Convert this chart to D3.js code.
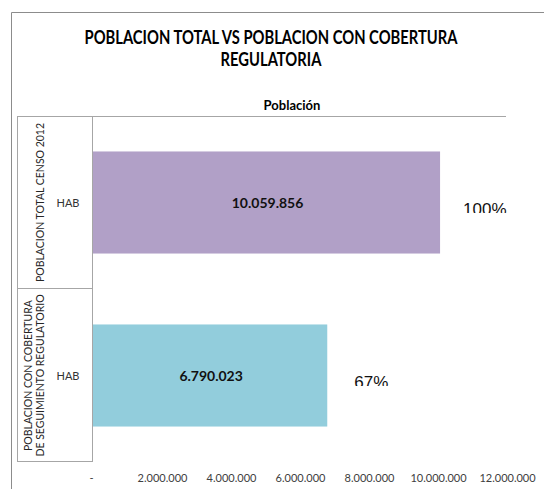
<!DOCTYPE html>
<html>
<head>
<meta charset="utf-8">
<script src="https://cdn.jsdelivr.net/npm/d3@7"></script>
<style>
  body { margin: 0; background: #fff; }
  svg { display: block; font-family: Lato, "Open Sans", sans-serif; }
</style>
</head>
<body>
<svg id="chart" width="544" height="489"></svg>
<script>
// ---- data ----
const categories = ["POBLACION TOTAL CENSO 2012", "POBLACION CON COBERTURA DE SEGUIMIENTO REGULATORIO"];
const categoryLines = [["POBLACION TOTAL CENSO 2012"], ["POBLACION CON COBERTURA", "DE SEGUIMIENTO REGULATORIO"]];
const subCategories = ["HAB", "HAB"];
const values = [10059856, 6790023];
const valueLabels = ["10.059.856", "6.790.023"];
const percentLabels = ["100%", "67%"];
const colors = ["#B1A0C7", "#92CDDC"];
const xTicks = [0, 2000000, 4000000, 6000000, 8000000, 10000000, 12000000];
const titleLines = ["POBLACION TOTAL VS POBLACION CON COBERTURA", "REGULATORIA"];
const headerLabel = "Población";

// ---- layout ----
const svg = d3.select("#chart");
const x = d3.scaleLinear().domain([0, 12000000]).range([93, 507]);
const y = d3.scaleBand().domain(categories).range([116, 462]).paddingInner(0.41).paddingOuter(0.205);

// outer chart border
svg.append("path").attr("d", "M11.5,600 V12.5 H560")
  .attr("fill", "none").attr("stroke", "#8c8c8c").attr("stroke-width", 1);

// title (compressed horizontally to mimic a narrow font)
const titles = svg.append("g").selectAll("text").data(titleLines).join("text")
  .attr("x", 271).attr("y", (d, i) => 44 + i * 22)
  .attr("text-anchor", "middle").attr("font-weight", "bold")
  .attr("font-size", 18).attr("fill", "#000").text(d => d);
const w0 = titles.nodes()[0].getComputedTextLength();
const k = 373 / w0;
titles.each(function() {
  const w = this.getComputedTextLength();
  d3.select(this).attr("textLength", w * k).attr("lengthAdjust", "spacingAndGlyphs");
});

// header
svg.append("text").attr("x", 292).attr("y", 110).attr("text-anchor", "middle")
  .attr("font-weight", "bold").attr("font-size", 13).attr("fill", "#000").text(headerLabel);

// table lines
const grid = svg.append("g").attr("stroke", "#a6a6a6").attr("stroke-width", 1).attr("fill", "none");
grid.append("line").attr("x1", 17).attr("x2", 506).attr("y1", 116.5).attr("y2", 116.5);
grid.append("line").attr("x1", 17.5).attr("x2", 17.5).attr("y1", 116).attr("y2", 462);
grid.append("line").attr("x1", x(0) - 0.5).attr("x2", x(0) - 0.5).attr("y1", 116).attr("y2", 462);
const bounds = [y.range()[0], (y(categories[0]) + y.bandwidth() + y(categories[1])) / 2, y.range()[1]];
grid.selectAll("line.b").data(bounds.slice(1)).join("line").attr("class", "b")
  .attr("x1", 17).attr("x2", x(0)).attr("y1", d => Math.round(d) - 0.5).attr("y2", d => Math.round(d) - 0.5);

// bars
svg.append("g").selectAll("rect").data(values).join("rect")
  .attr("x", x(0)).attr("y", (d, i) => y(categories[i]))
  .attr("width", d => x(d) - x(0)).attr("height", y.bandwidth())
  .attr("fill", (d, i) => colors[i]);

// value labels
svg.append("g").selectAll("text").data(values).join("text")
  .attr("x", d => (x(0) + x(d)) / 2 + 1)
  .attr("y", (d, i) => y(categories[i]) + y.bandwidth() / 2 + 5)
  .attr("text-anchor", "middle").attr("font-weight", "bold").attr("font-size", 14)
  .attr("fill", "#111").text((d, i) => valueLabels[i]);

// percent labels (clipped at bottom like the source)
const defs = svg.append("defs");
values.forEach((d, i) => {
  const cy = y(categories[i]) + y.bandwidth() / 2;
  defs.append("clipPath").attr("id", "pc" + i)
    .append("rect").attr("x", 0).attr("y", cy - 20).attr("width", 544).attr("height", 30.5);
});
svg.append("g").selectAll("text").data(values).join("text")
  .attr("clip-path", (d, i) => `url(#pc${i})`)
  .attr("x", (d, i) => x(d) + (i === 0 ? 23 : 27))
  .attr("y", (d, i) => y(categories[i]) + y.bandwidth() / 2 + 12)
  .attr("font-family", "'Liberation Sans', Arial, sans-serif")
  .attr("font-size", 17).attr("fill", "#111").text((d, i) => percentLabels[i]);

// sub-category labels
svg.append("g").selectAll("text").data(subCategories).join("text")
  .attr("x", 68).attr("y", (d, i) => y(categories[i]) + y.bandwidth() / 2 + 4)
  .attr("text-anchor", "middle").attr("font-size", 11).attr("fill", "#333").text(d => d);

// rotated category labels
categoryLines.forEach((lines, i) => {
  const cy = y(categories[i]) + y.bandwidth() / 2;
  const n = lines.length;
  lines.forEach((ln, j) => {
    const cx = 44 - (n - 1 - j) * 12;
    svg.append("text").attr("transform", `translate(${cx},${cy}) rotate(-90)`)
      .attr("text-anchor", "middle").attr("font-size", 10.5).attr("fill", "#262626").text(ln);
  });
});

// x axis labels
const fmt = d => d === 0 ? "-" : d3.format(",")(d).replace(/,/g, ".");
const ax = svg.append("g").attr("transform", "translate(0,466)")
  .call(d3.axisBottom(x).tickValues(xTicks).tickFormat(fmt).tickSize(0).tickPadding(8));
ax.select(".domain").remove();
ax.selectAll("text").attr("font-family", "Lato, 'Open Sans', sans-serif").attr("font-size", 11).attr("fill", "#404040");
ax.selectAll(".tick").filter(d => d === 0).select("text").attr("dx", -2);
</script>
</body>
</html>
